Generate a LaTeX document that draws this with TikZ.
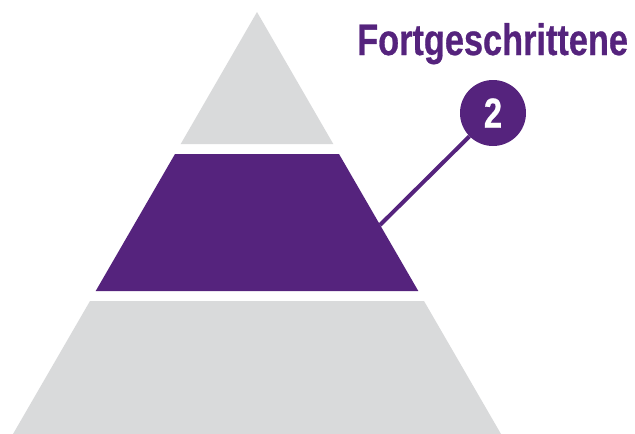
\documentclass[tikz,border=0pt]{standalone}
\usepackage{fontspec}
\setmainfont{Liberation Sans}
\newfontfamily\labelfont[FakeStretch=0.78,FakeBold=0.6]{Liberation Sans Bold}
\usetikzlibrary{positioning}
\definecolor{levelpurple}{HTML}{55237D}
\definecolor{levelgrey}{HTML}{D9DADB}

\begin{document}
\begin{tikzpicture}[
        x=1pt, y=-1pt,
        layer/.style={fill=levelgrey},
        active/.style={fill=levelpurple},
        badge/.style={
            circle,
            fill=levelpurple,
            minimum size=66pt,
            inner sep=0pt,
            text=white,
            font=\labelfont\fontsize{42}{42}\selectfont
        },
        title/.style={
            text=levelpurple,
            inner sep=0pt,
            anchor=base west,
            font=\labelfont\fontsize{44}{44}\selectfont
        },
        leader/.style={draw=levelpurple, line width=4pt}
    ]
        \useasboundingbox (0,0) rectangle (635,434);

        % pyramid levels
        \fill[layer] (257,12) -- (333.3,144) -- (180.7,144) -- cycle;
        \fill[active] (175,154) -- (339,154) -- (418.3,291) -- (95.7,291) -- cycle;
        \fill[layer] (90,301) -- (424,301) -- (501,434) -- (13,434) -- cycle;

        \coordinate (edge) at (380,225);
        \node[badge] (num) at (493,113) {2};
        \node[title] (lvl) at (357,55) {Fortgeschrittene};

        \draw[leader] (num) -- (edge);
    \end{tikzpicture}
\end{document}
